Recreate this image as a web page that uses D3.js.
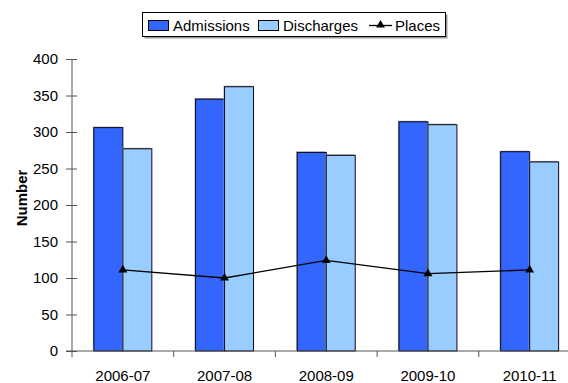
<!DOCTYPE html>
<html>
<head>
<meta charset="utf-8">
<script src="https://cdn.jsdelivr.net/npm/d3@7/dist/d3.min.js"></script>
<style>
  html, body { margin: 0; padding: 0; background: #fff; }
  svg { display: block; font-family: "Liberation Sans", Arial, sans-serif; }
</style>
</head>
<body>
<svg id="chart" width="568" height="383"></svg>
<script>
// Yearly admissions, discharges and available places
const years = ["2006-07", "2007-08", "2008-09", "2009-10", "2010-11"];
const admissions = [306, 345, 272, 314, 273];
const discharges = [277, 362, 268, 310, 259];
const places = [111, 100, 124, 106, 111];
const yTicks = [0, 50, 100, 150, 200, 250, 300, 350, 400];
const seriesNames = ["Admissions", "Discharges", "Places"];

const colAdm = "#3366ff";
const colDis = "#99ccff";

const svg = d3.select("#chart");
const plotLeft = 72, plotRight = 580.5, plotTop = 59, plotBottom = 351;

const x = d3.scaleBand().domain(years).range([plotLeft, plotRight]).paddingInner(0.43).paddingOuter(0.215);
const xs = d3.scaleBand().domain(["adm", "dis"]).range([0, x.bandwidth()]);
const y = d3.scaleLinear().domain([0, 400]).range([plotBottom, plotTop]);

// Bars
const groups = svg.append("g").selectAll("g").data(years).join("g")
  .attr("transform", d => `translate(${x(d)},0)`);

[["adm", admissions, colAdm], ["dis", discharges, colDis]].forEach(([k, vals, col]) => {
  groups.append("rect")
    .attr("x", (d, i) => xs(k) - 1)
    .attr("y", (d, i) => y(vals[i]) - 1)
    .attr("width", xs.bandwidth())
    .attr("height", (d, i) => plotBottom - y(vals[i]))
    .attr("fill", "#9a9a9a");
  groups.append("rect")
    .attr("x", (d, i) => xs(k))
    .attr("y", (d, i) => y(vals[i]))
    .attr("width", xs.bandwidth())
    .attr("height", (d, i) => plotBottom - y(vals[i]))
    .attr("fill", col)
    .attr("stroke", "#0a0a1a")
    .attr("stroke-width", 1);
});

// Places line with triangle markers
const cx = d => x(d) + x.bandwidth() / 2;
svg.append("path")
  .datum(years)
  .attr("fill", "none")
  .attr("stroke", "#000")
  .attr("stroke-width", 1.3)
  .attr("d", d3.line().x(d => cx(d)).y((d, i) => y(places[i])));

const tri = d3.symbol().type(d3.symbolTriangle).size(34);
svg.append("g").selectAll("path").data(years).join("path")
  .attr("d", tri)
  .attr("fill", "#000")
  .attr("transform", (d, i) => `translate(${cx(d)},${y(places[i])})`);

// Y axis
const yAxis = svg.append("g").attr("transform", `translate(${plotLeft},0)`)
  .call(d3.axisLeft(y).tickValues(yTicks).tickSize(6).tickPadding(8));
yAxis.select(".domain").remove();
yAxis.selectAll(".tick line").attr("x2", 5).attr("x1", -6).attr("stroke", "#555");
yAxis.append("line").attr("x1", 0).attr("x2", 0).attr("y1", plotTop).attr("y2", plotBottom).attr("stroke", "#555");
yAxis.selectAll("text").attr("font-size", 15).attr("fill", "#000")
  .attr("font-family", "Liberation Sans, Arial, sans-serif");

// X axis
const xAxisG = svg.append("g").attr("transform", `translate(0,${plotBottom})`);
xAxisG.append("line").attr("x1", plotLeft - 6).attr("x2", plotRight).attr("stroke", "#555");
const bounds = years.map(d => x(d) - x.step() * x.paddingInner() / 2);
xAxisG.selectAll("line.tk").data(bounds).join("line").attr("class", "tk")
  .attr("x1", d => d).attr("x2", d => d).attr("y1", 0).attr("y2", 6).attr("stroke", "#555");
xAxisG.selectAll("text").data(years).join("text")
  .attr("x", d => cx(d)).attr("y", 30)
  .attr("text-anchor", "middle").attr("font-size", 15).attr("fill", "#000")
  .text(d => d);

// Y axis title
svg.append("text")
  .attr("transform", "translate(27,198) rotate(-90)")
  .attr("text-anchor", "middle")
  .attr("font-size", 15).attr("font-weight", "bold")
  .text("Number");

// Legend
const lg = svg.append("g");
lg.append("rect").attr("x", 144.5).attr("y", 14.5).attr("width", 303).attr("height", 24).attr("fill", "#999");
lg.append("rect").attr("x", 142.5).attr("y", 12.5).attr("width", 303).attr("height", 24)
  .attr("fill", "#fff").attr("stroke", "#000");
const items = [
  { name: seriesNames[0], sx: 148.5, tx: 173, kind: "box", col: colAdm },
  { name: seriesNames[1], sx: 258.5, tx: 283, kind: "box", col: colDis },
  { name: seriesNames[2], sx: 369, tx: 395, kind: "line" }
];
items.forEach(it => {
  if (it.kind === "box") {
    lg.append("rect").attr("x", it.sx).attr("y", 20.5).attr("width", 20).attr("height", 10)
      .attr("fill", it.col).attr("stroke", "#000");
  } else {
    lg.append("line").attr("x1", it.sx).attr("x2", it.sx + 23).attr("y1", 25.5).attr("y2", 25.5)
      .attr("stroke", "#000").attr("stroke-width", 1.3);
    lg.append("path").attr("d", tri).attr("transform", `translate(${it.sx + 11.5},25)`).attr("fill", "#000");
  }
  lg.append("text").attr("x", it.tx).attr("y", 31).attr("font-size", 15).text(it.name);
});
</script>
</body>
</html>
